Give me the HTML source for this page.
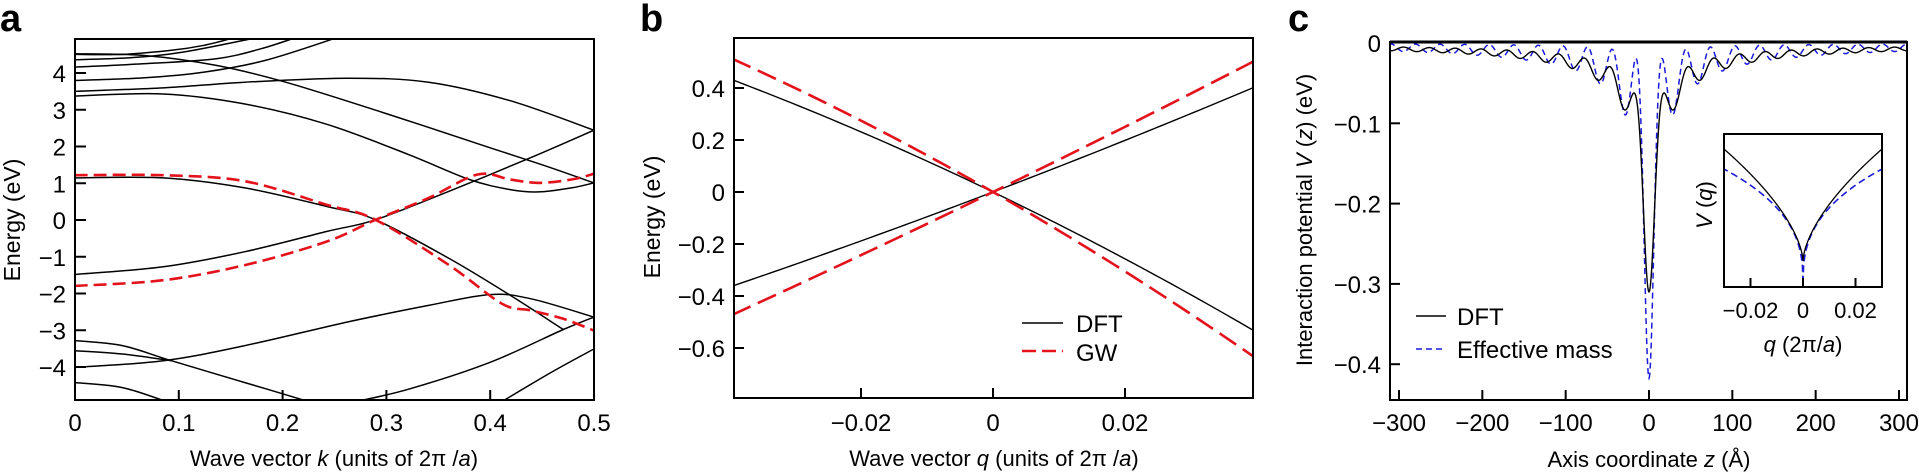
<!DOCTYPE html>
<html><head><meta charset="utf-8"><style>
html,body{margin:0;padding:0;background:#fff;}
svg{display:block;font-family:"Liberation Sans",Arial,sans-serif;}
</style></head><body>
<svg id="s" width="1919" height="473" viewBox="0 0 1919 473" xmlns="http://www.w3.org/2000/svg">
<defs>
<clipPath id="ca"><rect x="75" y="39" width="519" height="361"/></clipPath>
<clipPath id="cb"><rect x="734" y="38" width="519" height="360"/></clipPath>
<clipPath id="cc"><rect x="1390" y="41" width="517" height="359"/></clipPath>
<clipPath id="ci"><rect x="1724" y="134" width="158" height="153"/></clipPath>
</defs>
<g id="ga" clip-path="url(#ca)"></g>
<g id="gb" clip-path="url(#cb)"></g>
<g id="gc" clip-path="url(#cc)"></g>
<rect x="1724" y="134" width="158" height="153" fill="#fff" stroke="none"/>
<g id="gi" clip-path="url(#ci)"></g>
<g id="axes" fill="none" stroke="#000" stroke-width="2"></g>
<g id="txt" font-size="24" fill="#000"></g>
</svg>
<script>
var NS="http://www.w3.org/2000/svg";
function el(p,t,a,txt){var e=document.createElementNS(NS,t);for(var k in a)e.setAttribute(k,a[k]);if(txt!==undefined)e.textContent=txt;document.getElementById(p).appendChild(e);return e;}
function smooth(p){var d="M"+p[0][0].toFixed(1)+","+p[0][1].toFixed(1);for(var i=0;i<p.length-1;i++){var p0=p[i-1]||p[i],p1=p[i],p2=p[i+1],p3=p[i+2]||p2;var c1=[p1[0]+(p2[0]-p0[0])/6,p1[1]+(p2[1]-p0[1])/6],c2=[p2[0]-(p3[0]-p1[0])/6,p2[1]-(p3[1]-p1[1])/6];d+="C"+c1[0].toFixed(1)+","+c1[1].toFixed(1)+" "+c2[0].toFixed(1)+","+c2[1].toFixed(1)+" "+p2[0].toFixed(1)+","+p2[1].toFixed(1);}return d;}
function poly(p){return "M"+p.map(function(q){return q[0].toFixed(2)+","+q[1].toFixed(2)}).join("L");}
// Panel a
var A=function(pts){return pts.map(function(q){return [q[0]/2.45,q[1]/2.98]})};
var blk=[
[[183,162],[300,162],[420,150],[500,135],[575,112]],
[[183,178],[320,172],[450,155],[630,112]],
[[183,200],[350,190],[530,175],[640,145],[725,112]],
[[183,240],[350,232],[500,215],[650,180],[826,112]],
[[183,160],[350,165],[530,195],[700,245],[950,340],[1200,440],[1350,500],[1455,545]],
[[183,272],[400,262],[600,245],[850,233],[1050,245],[1250,300],[1455,388]],
[[183,286],[400,280],[600,310],[800,370],[1000,460],[1150,535],[1250,565],[1320,572],[1400,560],[1455,545]],
[[183,818],[400,795],[600,750],[800,690],[920,655],[1100,570],[1300,470],[1455,388]],
[[183,530],[400,530],[600,560],[800,615],[920,655],[1100,770],[1250,880],[1380,982]],
[[1455,945],[1380,982],[1200,1080],[1000,1160],[860,1200]],
[[1455,1040],[1350,1110],[1225,1200]],
[[183,1095],[400,1075],[600,1030],[850,960],[1050,910],[1200,878],[1300,890],[1455,945]],
[[183,1015],[300,1030],[420,1075],[600,1140],[765,1200]],
[[183,1045],[300,1055],[420,1075]],
[[183,1140],[300,1155],[415,1200]]];
blk.forEach(function(p){el("ga","path",{d:smooth(A(p)),fill:"none",stroke:"#000","stroke-width":1.5});});
var red=[
[[183,522],[400,522],[600,540],[800,610],[920,655],[1100,790],[1230,905],[1300,925],[1380,950],[1455,985]],
[[183,852],[400,835],[600,790],[800,720],[920,655],[1050,590],[1170,520],[1250,535],[1320,545],[1400,535],[1455,518]]];
red.forEach(function(p){el("ga","path",{d:smooth(A(p)),fill:"none",stroke:"#e3121b","stroke-width":2.6,"stroke-dasharray":"13,6"});});
// Panel b
function bl(a,b){var p=[];for(var q=-0.0395;q<=0.0396;q+=0.001)p.push([993+q*6600,192-(a*q+b*q*q)*260]);return poly(p);}
el("gb","path",{d:bl(9.67,12.95),fill:"none",stroke:"#000","stroke-width":1.4});
el("gb","path",{d:bl(-12.21,-32.4),fill:"none",stroke:"#000","stroke-width":1.4});
el("gb","path",{d:bl(12.34,9.7),fill:"none",stroke:"#e3121b","stroke-width":2.6,"stroke-dasharray":"20,8"});
el("gb","path",{d:bl(-14.5,-38.8),fill:"none",stroke:"#e3121b","stroke-width":2.6,"stroke-dasharray":"20,8"});
// Panel c
function g(z){return 3/Math.sqrt(z*z+400);}
function Vd(z){var c=(1+Math.cos(2*Math.PI*z/31))/2;return -(0.16*Math.exp(-(z/9)*(z/9))+g(z)*(0.5+0.5*c));}
function Ve(z){var c=(1+Math.cos(2*Math.PI*z/29.5))/2;return -(0.26*Math.exp(-(z/7.5)*(z/7.5))+g(z)*(0.12+0.88*c)*1.05);}
function cl(f){var p=[];for(var z=-312;z<=312;z+=0.5)p.push([1649+z*0.8333,43-f(z)*803]);return poly(p);}
el("gc","path",{d:cl(Ve),fill:"none",stroke:"#1a1adc","stroke-width":1.5,"stroke-dasharray":"6,4"});
el("gc","path",{d:cl(Vd),fill:"none",stroke:"#000","stroke-width":1.4});
// inset
function il(y0,k,pw){var p=[];for(var q=-0.031;q<=0.0311;q+=0.0002){var r=Math.abs(q)/0.0301;p.push([1803+q*2625,y0-k*Math.pow(r,pw)]);}return poly(p);}
el("gi","path",{d:il(285,116,0.37),fill:"none",stroke:"#1a1adc","stroke-width":1.6,"stroke-dasharray":"7,4"});
el("gi","path",{d:il(261,112,0.62),fill:"none",stroke:"#000","stroke-width":1.3});
// axes frames
el("axes","rect",{x:75,y:39,width:519,height:361});
el("axes","rect",{x:734,y:38,width:519,height:360});
el("axes","rect",{x:1390,y:42,width:517,height:358});
el("axes","line",{x1:1390,y1:42,x2:1907,y2:42,"stroke-width":3});
el("axes","rect",{x:1724,y:134,width:158,height:153});
var T="";
function tk(x1,y1,x2,y2){el("axes","line",{x1:x1,y1:y1,x2:x2,y2:y2});}
function tx(x,y,s,anc,extra){var a={x:x,y:y,"text-anchor":anc||"middle"};for(var k in extra)a[k]=extra[k];return el("txt","text",a,s);}
// a ticks
for(var i=0;i<=5;i++){var x=75+i*103.8;if(i>0&&i<5)tk(x,400,x,390);tx(x,431,i==0?"0":(i/10).toFixed(1));}
for(var e=-4;e<=4;e++){var y=220-e*36.75;tk(75,y,86,y);tx(66,y+9,e<0?"\u2212"+(-e):""+e,"end");}
// b ticks
[-0.02,0,0.02].forEach(function(q){var x=993+q*6600;tk(x,398,x,388);tx(x,431,q==0?"0":(q<0?"\u22120.02":"0.02"));});
for(var e=-6;e<=4;e+=2){var y=192-e*26;tk(734,y,744,y);tx(725,y+9,e==0?"0":(e<0?"\u2212":"")+"0."+Math.abs(e),"end");}
// c ticks
for(var z=-300;z<=300;z+=100){var x=1649+z*0.8333;tk(x,400,x,390);tx(x,431,(z<0?"\u2212":"")+Math.abs(z));}
for(var v=1;v<=4;v++){var y=43+v*80.3;tk(1390,y,1400,y);tx(1381,y+9,"\u22120."+v,"end");}
tx(1381,52,"0","end");
// inset ticks
[-0.02,0,0.02].forEach(function(q){var x=1803+q*2625;tk(x,287,x,278);tx(x,318,q==0?"0":(q<0?"\u22120.02":"0.02"),"middle",{"font-size":22});});
// labels
tx(0,31,"a","start",{"font-size":38,"font-weight":"bold"});
tx(640,31,"b","start",{"font-size":38,"font-weight":"bold"});
tx(1288,31,"c","start",{"font-size":38,"font-weight":"bold"});
var t=tx(334,466,"","middle",{"font-size":22});t.innerHTML='Wave vector <tspan font-style="italic">k</tspan> (units of 2π /<tspan font-style="italic">a</tspan>)';
t=tx(994,466,"","middle",{"font-size":22});t.innerHTML='Wave vector <tspan font-style="italic">q</tspan> (units of  2π /<tspan font-style="italic">a</tspan>)';
t=tx(1649,467,"","middle",{"font-size":22});t.innerHTML='Axis coordinate <tspan font-style="italic">z</tspan> (Å)';
t=tx(1803,352,"","middle",{"font-size":22});t.innerHTML='<tspan font-style="italic">q</tspan> (2π/<tspan font-style="italic">a</tspan>)';
tx(20,220,"Energy (eV)","middle",{"font-size":23,transform:"rotate(-90 20 220)"});
tx(660,217,"Energy (eV)","middle",{"font-size":23,transform:"rotate(-90 660 217)"});
t=tx(1312,220,"","middle",{"font-size":22,transform:"rotate(-90 1312 220)"});t.innerHTML='Interaction potential <tspan font-style="italic">V</tspan> (<tspan font-style="italic">z</tspan>) (eV)';
t=tx(1712,205,"","middle",{"font-size":22,transform:"rotate(-90 1712 205)"});t.innerHTML='<tspan font-style="italic">V</tspan> (<tspan font-style="italic">q</tspan>)';
// legends
el("axes","line",{x1:1022,y1:323,x2:1063,y2:323,"stroke-width":1.4});
el("axes","line",{x1:1022,y1:351,x2:1063,y2:351,stroke:"#e3121b","stroke-width":2.6,"stroke-dasharray":"14,6"});
tx(1076,332,"DFT","start");tx(1076,361,"GW","start");
el("axes","line",{x1:1416,y1:316,x2:1446,y2:316,"stroke-width":1.4});
el("axes","line",{x1:1416,y1:349,x2:1446,y2:349,stroke:"#1a1adc","stroke-width":1.5,"stroke-dasharray":"6,4"});
tx(1457,325,"DFT","start");tx(1457,358,"Effective mass","start");
</script>
</body></html>
